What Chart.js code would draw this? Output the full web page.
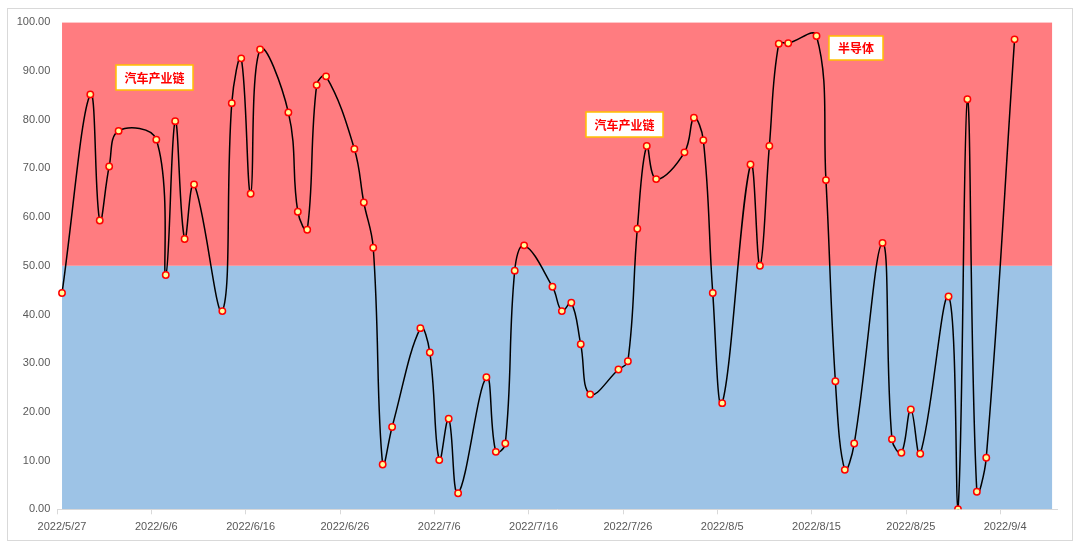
<!DOCTYPE html>
<html><head><meta charset="utf-8">
<script src="https://cdn.jsdelivr.net/npm/chart.js@4.4.0/dist/chart.umd.min.js"></script>
<style>html,body{margin:0;padding:0;background:#fff;}#wrap{position:relative;width:1080px;height:549px;}</style>
</head><body><div id="wrap"><canvas id="c" width="1080" height="549"></canvas></div>
<script>
const startDate = '2022-05-27';
const dates = ['2022-05-27','2022-05-30','2022-05-31','2022-06-01','2022-06-02','2022-06-06','2022-06-07','2022-06-08','2022-06-09','2022-06-10',
'2022-06-13','2022-06-14','2022-06-15','2022-06-16','2022-06-17','2022-06-20','2022-06-21','2022-06-22','2022-06-23','2022-06-24',
'2022-06-27','2022-06-28','2022-06-29','2022-06-30','2022-07-01','2022-07-04','2022-07-05','2022-07-06','2022-07-07','2022-07-08',
'2022-07-11','2022-07-12','2022-07-13','2022-07-14','2022-07-15','2022-07-18','2022-07-19','2022-07-20','2022-07-21','2022-07-22',
'2022-07-25','2022-07-26','2022-07-27','2022-07-28','2022-07-29','2022-08-01','2022-08-02','2022-08-03','2022-08-04','2022-08-05',
'2022-08-08','2022-08-09','2022-08-10','2022-08-11','2022-08-12','2022-08-15','2022-08-16','2022-08-17','2022-08-18','2022-08-19',
'2022-08-22','2022-08-23','2022-08-24','2022-08-25','2022-08-26','2022-08-29','2022-08-30','2022-08-31','2022-09-01','2022-09-02',
'2022-09-05'];
const values = [44.4,85.2,59.3,70.4,77.7,75.9,48.1,79.7,55.5,66.7,
40.7,83.4,92.6,64.8,94.4,81.5,61.1,57.4,87.1,88.9,
74.0,63.0,53.7,9.2,16.9,37.2,32.2,10.1,18.6,3.3,
27.1,11.8,13.5,49.0,54.2,45.7,40.7,42.4,33.9,23.6,
28.7,30.4,57.6,74.6,67.8,73.3,80.4,75.8,44.4,21.8,
70.8,50.0,74.6,95.6,95.7,97.2,67.6,26.3,8.1,13.5,
54.7,14.4,11.6,20.5,11.4,43.7,0.0,84.2,3.6,10.6,
96.5];
const xTickLabels = ['2022/5/27','2022/6/6','2022/6/16','2022/6/26','2022/7/6','2022/7/16','2022/7/26','2022/8/5','2022/8/15','2022/8/25','2022/9/4'];
const bandDates = ['2022-05-27','2022-09-09'];
const bandLower = [50,50];
const bandUpper = [100,100];
const noteTexts = ['汽车产业链','汽车产业链','半导体'];

const DAY = 86400000;
const dayOf = d => (Date.parse(d) - Date.parse(startDate)) / DAY;
const linePts = dates.map((d,i)=>({x:dayOf(d), y:values[i]}));
const lowPts = bandDates.map((d,i)=>({x:dayOf(d), y:bandLower[i]}));
const upPts = bandDates.map((d,i)=>({x:dayOf(d), y:bandUpper[i]}));

const frame = {
  id:'frame',
  beforeDraw(chart){
    const ctx = chart.ctx;
    ctx.save();
    ctx.fillStyle='#fff'; ctx.fillRect(0,0,chart.width,chart.height);
    ctx.strokeStyle='#D9D9D9'; ctx.lineWidth=1;
    ctx.strokeRect(7.5,8.5,1065,532);
    ctx.restore();
  }
};
const notes = {
  id:'notes',
  afterDatasetsDraw(chart){
    const ctx = chart.ctx;
    const boxes = [[116,65,77,25],[586,112,77,25],[829,36,54,24]];
    ctx.save();
    boxes.forEach((b,i)=>{
      ctx.fillStyle='#fff'; ctx.fillRect(b[0],b[1],b[2],b[3]);
      ctx.strokeStyle='#FFC000'; ctx.lineWidth=1.5; ctx.strokeRect(b[0],b[1],b[2],b[3]);
      ctx.fillStyle='#FF0000';
      ctx.font='bold 12px "Noto Sans CJK SC"';
      ctx.textAlign='center'; ctx.textBaseline='middle';
      ctx.fillText(noteTexts[i], b[0]+b[2]/2, b[1]+b[3]/2+0.5);
    });
    ctx.restore();
  }
};

new Chart(document.getElementById('c'), {
  type:'line',
  data:{datasets:[
    {data:linePts, borderColor:'#000', borderWidth:1.5, tension:0.4, fill:false,
     pointRadius:3.2, pointBorderWidth:1.5, pointBorderColor:'#FF0000', pointBackgroundColor:'#FFFF99', order:0},
    {data:lowPts, borderWidth:0, pointRadius:0, fill:'origin', backgroundColor:'#9DC3E6', order:2, tension:0},
    {data:upPts, borderWidth:0, pointRadius:0, fill:{value:50}, backgroundColor:'#FF7C80', order:1, tension:0}
  ]},
  options:{
    responsive:false, animation:false, events:[],
    layout:{padding:{left:7,right:23,top:22.3,bottom:0}},
    plugins:{legend:{display:false}, tooltip:{enabled:false}},
    scales:{
      x:{type:'linear', min:-0.5, max:105.5,
        afterBuildTicks(s){ s.ticks = xTickLabels.map((l,i)=>({value:-0.5+10*i})); },
        afterFit(s){ s.height = 39.7; },
        grid:{display:true, drawOnChartArea:false, drawTicks:true, tickLength:5, color:'#D9D9D9'},
        border:{display:true, color:'#D9D9D9'},
        ticks:{autoSkip:false, maxRotation:0, labelOffset:4.7, padding:6, color:'#595959',
          font:{family:'"Liberation Sans"', size:11},
          callback:(v,i)=>xTickLabels[i]}
      },
      y:{min:0, max:100,
        afterFit(s){ s.width = 50.3; },
        grid:{display:false, tickLength:0}, border:{display:false},
        ticks:{stepSize:10, padding:7, color:'#595959', font:{family:'"Liberation Sans"', size:11},
          callback:v=>v.toFixed(2)}
      }
    }
  },
  plugins:[frame, notes]
});
</script></body></html>
